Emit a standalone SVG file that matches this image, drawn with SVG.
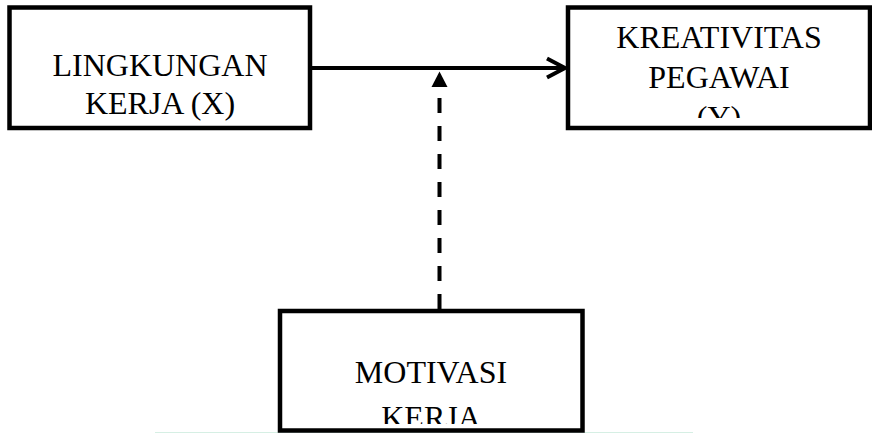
<svg xmlns="http://www.w3.org/2000/svg" width="872" height="433" viewBox="0 0 872 433">
<style>
.box{fill:#fff;stroke:#000;stroke-width:4.5}
.lbl{font-family:"Liberation Serif","Times New Roman",serif;font-size:32px;fill:#000;text-anchor:middle}
.conn{fill:none;stroke:#000;stroke-width:4}
</style>
<defs>
<clipPath id="c2"><rect x="571" y="10" width="296" height="108"/></clipPath>
<clipPath id="c3"><rect x="283" y="314" width="296" height="110"/></clipPath>
</defs>
<rect width="872" height="433" fill="#fff"/>
<line x1="155" y1="432.5" x2="693" y2="432.5" stroke="#d6efe4" stroke-width="1"/>
<g id="connectors">
<line class="conn" x1="312" y1="68" x2="564" y2="68"/>
<polyline class="conn" points="547,58.5 565,68 547,77.5"/>
<line class="conn" x1="439.5" y1="98" x2="439.5" y2="309" stroke-dasharray="15 13"/>
<polygon points="439.5,71.5 431.5,87 447.5,87" fill="#000"/>
</g>
<g id="lingkungan">
<rect class="box" x="9.5" y="7.5" width="300.5" height="120.5"/>
<text class="lbl" x="160" y="76">LINGKUNGAN</text>
<text class="lbl" x="160" y="114">KERJA (X)</text>
</g>
<g id="kreativitas">
<rect class="box" x="568" y="7.5" width="302" height="120.5"/>
<g clip-path="url(#c2)">
<text class="lbl" x="719" y="48">KREATIVITAS</text>
<text class="lbl" x="719" y="88">PEGAWAI</text>
<text class="lbl" x="719" y="128">(Y)</text>
</g>
</g>
<g id="motivasi">
<rect class="box" x="280" y="311" width="302.5" height="119.5"/>
<g clip-path="url(#c3)">
<text class="lbl" x="431" y="383">MOTIVASI</text>
<text class="lbl" x="431" y="428">KERJA</text>
</g>
</g>
</svg>
